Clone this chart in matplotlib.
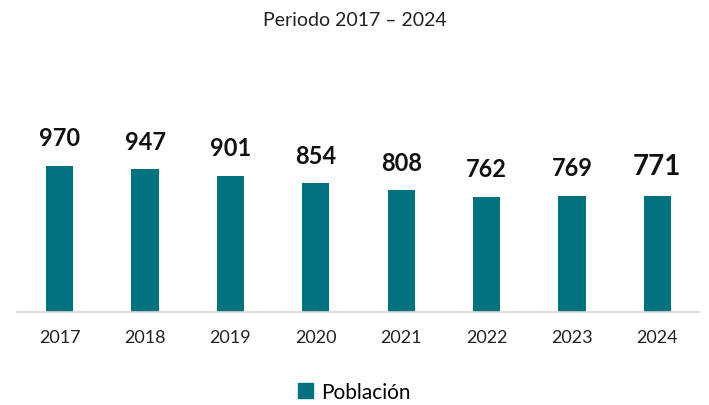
import matplotlib.pyplot as plt
from matplotlib.patches import Patch

plt.rcParams['font.family'] = ['Lato', 'DejaVu Sans']

years = ['2017', '2018', '2019', '2020', '2021', '2022', '2023', '2024']
poblacion = [970, 947, 901, 854, 808, 762, 769, 771]

bar_color = '#00737f'

fig = plt.figure(figsize=(7.09, 4.06), dpi=100)
ax = fig.add_axes([17 / 709, 93 / 406, 683 / 709, 196 / 406])

x = range(len(years))
ax.bar(x, poblacion, width=0.32, color=bar_color, zorder=2)

# value labels, last one a bit larger
for i, v in enumerate(poblacion):
    size = 20 if i == len(poblacion) - 1 else 17
    ax.annotate(str(v), (i, v), xytext=(0, 12), textcoords='offset points',
                ha='center', va='bottom', fontsize=size, fontweight='bold',
                color='#111111')

ax.set_xlim(-0.5, len(years) - 0.5)
ax.set_ylim(0, 1300)
ax.set_xticks(list(x))
ax.set_xticklabels(years, fontsize=13, color='#222222')
ax.tick_params(axis='x', length=0, pad=12)
ax.set_yticks([])
for side in ['top', 'right', 'left']:
    ax.spines[side].set_visible(False)
ax.spines['bottom'].set_color('#d9d9d9')
ax.spines['bottom'].set_linewidth(1.2)

fig.text(0.5, 1 - 20 / 406, 'Periodo 2017 – 2024', ha='center', va='center',
         fontsize=14, color='#222222')

fig.legend(handles=[Patch(color=bar_color, label='Población')],
           loc='center', bbox_to_anchor=(0.5, 1 - 393 / 406), frameon=False,
           fontsize=15, handlelength=0.7, handleheight=0.7, handletextpad=0.4)

fig.savefig('out.png', dpi=100)
